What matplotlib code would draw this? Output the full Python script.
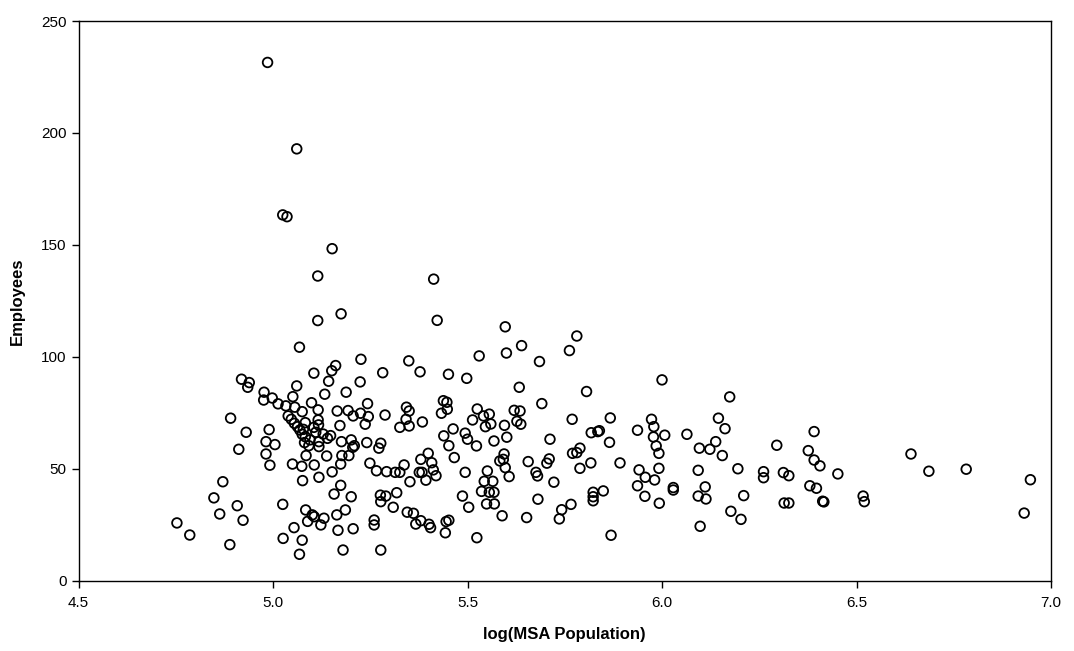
import matplotlib
matplotlib.use("Agg")
import matplotlib.pyplot as plt

# values
log_pop = [
    4.986, 5.061, 5.025, 5.036, 5.152, 5.115, 5.413, 5.115, 5.175, 5.422,
    4.919, 4.939, 4.935, 4.977, 4.976, 4.998, 5.013, 4.891, 4.931, 4.990,
    4.982, 5.005, 4.912, 4.982,
    4.992, 4.871, 4.848, 4.908, 4.863, 4.923, 4.753, 4.786, 4.889, 5.025, 5.026,
    5.068, 5.226, 5.349, 5.161, 5.151, 5.105, 5.282, 5.143, 5.224, 5.061,
    5.133, 5.188, 5.051, 5.033, 5.056, 5.099, 5.075, 5.116, 5.243, 5.165,
    5.193, 5.225, 5.245, 5.206, 5.288, 5.326, 5.039, 5.047, 5.055, 5.116,
    5.117, 5.237, 5.172, 5.063, 5.069, 5.078, 5.083, 5.075, 5.083, 5.105,
    5.110, 5.148, 5.140, 5.129, 5.081, 5.092, 5.095, 5.118, 5.118, 5.176,
    5.201, 5.209, 5.205, 5.241, 5.277, 5.272, 5.085, 5.138, 5.177, 5.195,
    5.050, 5.074, 5.106, 5.174, 5.249, 5.266, 5.292, 5.314, 5.326, 5.337,
    5.076, 5.118, 5.152, 5.174, 5.157, 5.201, 5.276, 5.290, 5.277, 5.318,
    5.309, 5.084, 5.101, 5.106, 5.131, 5.089, 5.123, 5.164, 5.186, 5.054,
    5.075, 5.068, 5.167, 5.206, 5.260, 5.260, 5.180, 5.277,
    5.597, 5.530, 5.600, 5.639, 5.685, 5.378, 5.451, 5.498, 5.633, 5.691,
    5.438, 5.447, 5.448, 5.433, 5.343, 5.350, 5.342, 5.350, 5.384, 5.525,
    5.541, 5.556, 5.513, 5.546, 5.560, 5.620, 5.635, 5.627, 5.637, 5.595,
    5.463, 5.439, 5.494, 5.500, 5.601, 5.568, 5.712, 5.452, 5.523, 5.399,
    5.466, 5.380, 5.408, 5.352, 5.376, 5.383, 5.412, 5.419, 5.393, 5.494,
    5.594, 5.583, 5.592, 5.597, 5.607, 5.551, 5.543, 5.565, 5.536, 5.556,
    5.568, 5.487, 5.503, 5.549, 5.569, 5.589, 5.656, 5.704, 5.710, 5.676,
    5.680, 5.722, 5.681, 5.652, 5.345, 5.361, 5.367, 5.380, 5.401, 5.405,
    5.445, 5.452, 5.443, 5.524,
    5.781, 5.762, 6.000, 5.806, 6.174, 5.769, 5.867, 5.973, 5.979, 6.145,
    6.162, 5.818, 5.835, 5.839, 5.937, 6.007, 5.978, 6.064, 5.865, 6.138,
    5.985, 6.096, 6.123,
    5.992, 6.155, 5.770, 5.781, 5.789, 5.789, 5.817, 5.892, 5.941, 5.957,
    5.981, 5.992, 5.937, 5.956, 5.993, 6.029, 6.029, 6.093, 6.195, 6.111,
    6.093, 6.113, 6.210, 6.177, 6.203, 6.098, 5.849, 5.823, 5.823, 5.823,
    5.766, 5.742, 5.736, 5.869,
    6.391, 6.295, 6.376, 6.391, 6.406, 6.452, 6.640, 6.686, 6.782, 6.947,
    6.931, 6.261, 6.261, 6.312, 6.326, 6.380, 6.397, 6.314, 6.326, 6.413,
    6.416, 6.517, 6.520,
]
employees = [
    231.5, 192.9, 163.4, 162.6, 148.3, 136.1, 134.7, 116.2, 119.2, 116.3,
    90.0, 88.5, 86.4, 84.2, 80.7, 81.6, 79.0, 72.6, 66.3, 67.5,
    62.1, 60.8, 58.7, 56.6,
    51.6, 44.2, 37.0, 33.5, 29.8, 27.0, 25.8, 20.4, 16.1, 34.1, 18.9,
    104.3, 98.9, 98.2, 96.1, 93.8, 92.7, 92.9, 89.1, 88.8, 87.0,
    83.3, 84.2, 82.2, 78.1, 77.5, 79.5, 75.5, 76.3, 79.1, 75.8,
    76.0, 74.8, 73.3, 73.6, 74.0, 68.5, 73.6, 72.1, 70.3, 71.8,
    69.6, 69.9, 69.3, 68.8, 67.3, 67.6, 70.6, 65.4, 64.3, 68.5,
    66.3, 64.8, 63.6, 65.5, 61.7, 60.3, 62.9, 62.1, 59.9, 62.1,
    62.9, 60.3, 59.6, 61.7, 61.4, 59.2, 55.9, 55.7, 55.9, 55.9,
    52.1, 51.1, 51.7, 52.1, 52.5, 49.1, 48.7, 48.4, 48.4, 51.7,
    44.7, 46.2, 48.6, 42.6, 38.7, 37.5, 38.2, 37.8, 35.3, 39.3,
    32.8, 31.6, 29.4, 28.6, 27.9, 26.5, 24.9, 29.4, 31.6, 23.7,
    18.1, 11.8, 22.5, 23.2, 27.1, 24.9, 13.7, 13.7,
    113.4, 100.4, 101.7, 105.0, 97.9, 93.3, 92.2, 90.4, 86.4, 79.1,
    80.4, 79.7, 76.6, 74.8, 77.5, 75.8, 72.1, 69.1, 70.9, 76.7,
    73.6, 74.4, 71.8, 68.8, 70.0, 76.1, 75.8, 71.2, 69.9, 69.4,
    67.8, 64.7, 65.9, 63.2, 64.1, 62.4, 63.2, 60.3, 60.2, 56.9,
    55.0, 54.2, 52.7, 44.2, 48.4, 48.4, 49.5, 46.9, 44.9, 48.4,
    56.6, 53.5, 54.2, 50.5, 46.5, 49.0, 44.4, 44.4, 39.9, 39.5,
    39.5, 37.8, 32.8, 34.3, 34.3, 29.0, 53.2, 52.5, 54.4, 48.4,
    46.8, 44.0, 36.4, 28.2, 30.6, 30.1, 25.3, 26.8, 25.2, 23.7,
    26.4, 27.0, 21.4, 19.2,
    109.3, 102.8, 89.7, 84.5, 82.1, 72.1, 72.7, 72.1, 68.8, 72.6,
    67.9, 66.1, 66.6, 67.0, 67.2, 65.0, 64.2, 65.4, 61.8, 62.1,
    60.2, 59.2, 58.7,
    56.9, 55.9, 56.9, 57.2, 59.2, 50.2, 52.6, 52.6, 49.5, 46.2,
    45.0, 50.2, 42.4, 37.7, 34.6, 41.6, 40.5, 49.3, 50.0, 41.9,
    37.8, 36.5, 38.0, 31.0, 27.4, 24.3, 40.1, 39.5, 37.5, 35.7,
    34.1, 31.7, 27.6, 20.3,
    66.6, 60.5, 58.1, 53.9, 51.3, 47.7, 56.6, 48.9, 49.8, 45.1,
    30.2, 48.7, 46.0, 48.3, 46.9, 42.4, 41.3, 34.7, 34.7, 35.5,
    35.2, 37.8, 35.3,
]
x_ticks = [4.5, 5.0, 5.5, 6.0, 6.5, 7.0]
y_ticks = [0, 50, 100, 150, 200, 250]

plt.rcParams['font.family'] = ['Liberation Sans', 'DejaVu Sans']

fig = plt.figure(figsize=(10.74, 6.51), dpi=100)
ax = fig.add_axes([0.0731, 0.108, 0.9055, 0.8597])

ax.scatter(log_pop, employees, s=48, facecolors='none', edgecolors='black',
           linewidths=1.3, clip_on=False, zorder=3)

ax.set_xlim(4.5, 7.0)
ax.set_ylim(0, 250)
ax.set_xticks(x_ticks)
ax.set_xticklabels([f"{t:.1f}" for t in x_ticks])
ax.set_yticks(y_ticks)
ax.tick_params(direction='out', length=5, width=1, labelsize=11, colors='black')
ax.tick_params(axis='x', pad=6)
for sp in ax.spines.values():
    sp.set_linewidth(1)
    sp.set_color('black')

ax.set_xlabel("log(MSA Population)", fontsize=12, fontweight='bold', labelpad=12)
ax.set_ylabel("Employees", fontsize=12, fontweight='bold', labelpad=12)

fig.savefig("out.png", dpi=100)
